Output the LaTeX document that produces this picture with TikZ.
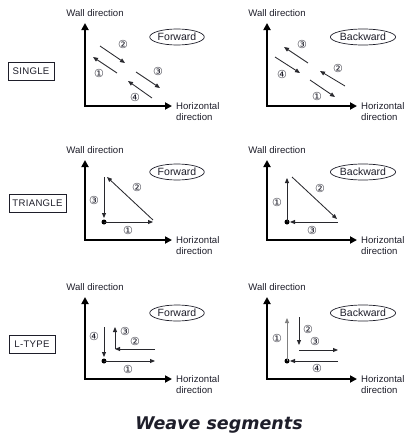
\documentclass[tikz,border=0pt]{standalone}
\usepackage{fontspec}
\setmainfont{Liberation Sans}
\newfontfamily\circfont{DejaVu Sans}
\newfontfamily\titlefont{DejaVu Sans}
\usetikzlibrary{arrows.meta,shapes.geometric}
\definecolor{txt}{RGB}{30,30,42}
\definecolor{segcol}{RGB}{40,40,45}
\begin{document}
\begin{tikzpicture}[x=1pt,y=-1pt,
  axis/.style={line width=2.6pt, line join=miter, draw=black,
    {Triangle[length=7pt,width=7pt]}-{Triangle[length=7pt,width=7pt]}},
  seg/.style={line width=0.85pt, draw=segcol, -{Triangle[length=5pt,width=4pt]}},
  num/.style={font=\circfont\fontsize{11}{11}\selectfont, text=txt, inner sep=0pt},
  axlab/.style={font=\fontsize{9.6}{11}\selectfont, text=txt, inner sep=0pt},
  hlab/.style={axlab, align=left, anchor=west},
  dirbox/.style={ellipse, draw=txt, line width=0.7pt, minimum width=54pt, minimum height=16pt,
    inner sep=0pt, font=\fontsize{10.5}{11}\selectfont, text=txt},
  kindbox/.style={draw=txt, line width=0.8pt, inner sep=0pt, minimum height=18pt,
    font=\fontsize{9.6}{11}\selectfont\addfontfeature{LetterSpace=3}, text=txt},
  dotmark/.style={circle, fill=black, inner sep=0pt, minimum size=5pt}
]
\useasboundingbox (0,0) rectangle (411,439);

% ---------------- kind boxes ----------------
\node[kindbox, minimum width=46pt] (kSingle) at (31,71) {SINGLE};
\node[kindbox, minimum width=57pt] (kTri) at (37.5,203.5) {TRIANGLE};
\node[kindbox, minimum width=46pt] (kL) at (32,344.5) {L-TYPE};

% ---------------- axes ----------------
\coordinate (t1) at (85,23);   \coordinate (c1) at (85,106);  \coordinate (r1) at (172,106);
\coordinate (t2) at (267,23);  \coordinate (c2) at (267,106); \coordinate (r2) at (357,106);
\coordinate (t3) at (85,160);  \coordinate (c3) at (85,240);  \coordinate (r3) at (172,240);
\coordinate (t4) at (267,160); \coordinate (c4) at (267,240); \coordinate (r4) at (357,240);
\coordinate (t5) at (85,297);  \coordinate (c5) at (85,379);  \coordinate (r5) at (172,379);
\coordinate (t6) at (267,297); \coordinate (c6) at (267,379); \coordinate (r6) at (357,379);
\foreach \i in {1,...,6}{ \draw[axis] (t\i) -- (c\i) -- (r\i); }

% axis labels
\node[axlab] (w1) at (95,13) {Wall direction};
\node[axlab] (w2) at (277,13) {Wall direction};
\node[axlab] (w3) at (95,150) {Wall direction};
\node[axlab] (w4) at (277,150) {Wall direction};
\node[axlab] (w5) at (95,287) {Wall direction};
\node[axlab] (w6) at (277,287) {Wall direction};
\node[hlab] (h1) at (176,111.5) {Horizontal\\direction};
\node[hlab] (h2) at (361,111.5) {Horizontal\\direction};
\node[hlab] (h3) at (176,245.5) {Horizontal\\direction};
\node[hlab] (h4) at (361,245.5) {Horizontal\\direction};
\node[hlab] (h5) at (176,384.5) {Horizontal\\direction};
\node[hlab] (h6) at (361,384.5) {Horizontal\\direction};

% direction ellipses
\node[dirbox] (f1) at (177,37) {Forward};
\node[dirbox] (b2) at (363,37) {Backward};
\node[dirbox] (f3) at (177,172) {Forward};
\node[dirbox] (b4) at (363,172) {Backward};
\node[dirbox] (f5) at (177,313) {Forward};
\node[dirbox] (b6) at (363,313) {Backward};

% ---------------- panel 1 : single forward ----------------
\coordinate (a1s) at (100,46);  \coordinate (a1e) at (125,63);
\coordinate (a2s) at (117,73);  \coordinate (a2e) at (93,57);
\coordinate (a3s) at (136,72);  \coordinate (a3e) at (160,88);
\coordinate (a4s) at (152,98);  \coordinate (a4e) at (128,81);
\draw[seg] (a1s) -- (a1e);
\draw[seg] (a2s) -- (a2e);
\draw[seg] (a3s) -- (a3e);
\draw[seg] (a4s) -- (a4e);
\node[num] (n12) at (123,44) {②};
\node[num] (n11) at (99,73) {①};
\node[num] (n13) at (158,71) {③};
\node[num] (n14) at (135,97) {④};

% ---------------- panel 2 : single backward ----------------
\coordinate (b1s) at (308,63);  \coordinate (b1e) at (284,47);
\coordinate (b2s) at (275,57);  \coordinate (b2e) at (300,73);
\coordinate (b3s) at (345,86);  \coordinate (b3e) at (320,71);
\coordinate (b4s) at (310,80);  \coordinate (b4e) at (335,97);
\draw[seg] (b1s) -- (b1e);
\draw[seg] (b2s) -- (b2e);
\draw[seg] (b3s) -- (b3e);
\draw[seg] (b4s) -- (b4e);
\node[num] (n23) at (302,44) {③};
\node[num] (n24) at (282,74) {④};
\node[num] (n22) at (338,68) {②};
\node[num] (n21) at (317,96) {①};

% ---------------- panel 3 : triangle forward ----------------
\node[dotmark] (d3) at (104,222) {};
\coordinate (p3a) at (153,222);
\coordinate (p3b) at (153,220);
\coordinate (p3c) at (107,177);
\coordinate (p3d) at (104,177);
\coordinate (p3e) at (104,218);
\draw[seg] (d3.center) -- (p3a);
\draw[seg] (p3b) -- (p3c);
\draw[seg] (p3d) -- (p3e);
\node[num] (n31) at (128,230) {①};
\node[num] (n32) at (137,187) {②};
\node[num] (n33) at (94,200) {③};

% ---------------- panel 4 : triangle backward ----------------
\node[dotmark] (d4) at (287,222) {};
\coordinate (p4a) at (287,178);
\coordinate (p4b) at (292,177);
\coordinate (p4c) at (337,219);
\coordinate (p4d) at (338,222);
\coordinate (p4e) at (290,222);
\draw[seg] (d4.center) -- (p4a);
\draw[seg] (p4b) -- (p4c);
\draw[seg] (p4d) -- (p4e);
\node[num] (n41) at (277,202) {①};
\node[num] (n42) at (320,188) {②};
\node[num] (n43) at (312,230) {③};

% ---------------- panel 5 : L-type forward ----------------
\node[dotmark] (d5) at (104,361) {};
\coordinate (p5a) at (155,361);
\coordinate (p5b) at (155,349);
\coordinate (p5c) at (115,349);
\coordinate (p5d) at (115,327);
\coordinate (p5e) at (104,327);
\coordinate (p5f) at (104,357);
\draw[seg] (d5.center) -- (p5a);
\draw[seg] (p5b) -- (p5c);
\draw[seg] (p5c) -- (p5d);
\draw[seg] (p5e) -- (p5f);
\node[num] (n51) at (128,369) {①};
\node[num] (n52) at (135,341) {②};
\node[num] (n53) at (125,331) {③};
\node[num] (n54) at (94,336) {④};

% ---------------- panel 6 : L-type backward ----------------
\node[dotmark] (d6) at (287,361) {};
\coordinate (p6a) at (287,318);
\coordinate (p6b) at (299,317);
\coordinate (p6c) at (299,345);
\coordinate (p6d) at (299,350);
\coordinate (p6e) at (338,350);
\coordinate (p6f) at (338,361);
\coordinate (p6g) at (290,361);
\draw[seg, draw=gray] (d6.center) -- (p6a);
\draw[seg] (p6b) -- (p6c);
\draw[seg] (p6d) -- (p6e);
\draw[seg] (p6f) -- (p6g);
\node[num] (n61) at (277,338) {①};
\node[num] (n62) at (308,329) {②};
\node[num] (n63) at (315,341) {③};
\node[num] (n64) at (317,368) {④};

% ---------------- title ----------------
\node[font=\titlefont\bfseries\itshape\fontsize{17.5}{20}\selectfont, text=txt] (title) at (219,425) {Weave segments};
\end{tikzpicture}
\end{document}
